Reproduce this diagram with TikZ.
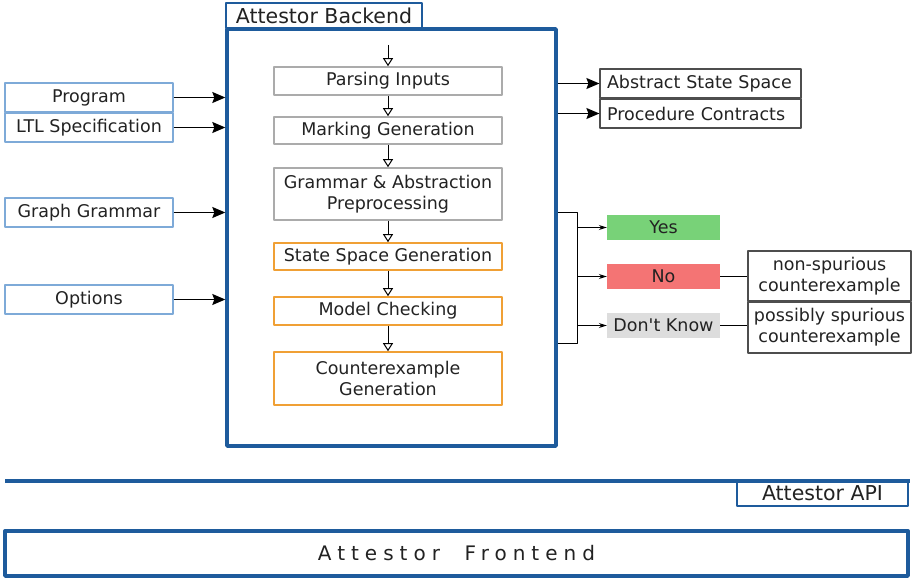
\documentclass[tikz,border=0pt]{standalone}
\usepackage{fontspec}
\setmainfont{DejaVu Sans}[Ligatures=TeXOff]
\usetikzlibrary{arrows.meta,positioning}
\definecolor{apiblue}{HTML}{1E5B9C}
\definecolor{inblue}{HTML}{7EAAD8}
\definecolor{stgray}{HTML}{ABABAB}
\definecolor{storange}{HTML}{F0A035}
\definecolor{yesgreen}{HTML}{78D278}
\definecolor{nored}{HTML}{F47474}
\definecolor{dkgray}{HTML}{DDDDDD}
\definecolor{txt}{HTML}{222222}
\tikzset{
  stage/.style={draw=stgray, line width=1.6pt, minimum width=228pt, align=center, inner sep=0pt},
  late/.style={stage, draw=storange},
  input/.style={draw=inblue, line width=1.4pt, minimum width=168pt, minimum height=29pt, inner sep=0pt},
  output/.style={draw=txt!80, line width=1.2pt, minimum width=201pt, minimum height=29pt, text width=187pt, align=left, inner sep=0pt},
  answer/.style={minimum width=113pt, minimum height=25pt, inner sep=0pt},
  cexbox/.style={draw=txt!80, line width=1.2pt, minimum width=163pt, align=center, inner sep=0pt},
  flow/.style={-{Triangle[open,length=8pt,width=10pt]}, line width=1pt},
  feed/.style={-{Stealth[length=13pt,width=11pt,inset=2pt]}, line width=1.2pt},
}
\begin{document}
\begin{tikzpicture}[x=1pt,y=-1pt, font=\fontsize{17.5}{21}\selectfont, text=txt, line join=round]
\useasboundingbox (0,0) rectangle (917,578);
% backend
\node[draw=apiblue, line width=3.4pt, minimum width=329pt, minimum height=417pt] (back) at (391.5,237.5) {};
\node[draw=apiblue, line width=2.4pt, minimum width=196pt, minimum height=25pt, inner sep=0pt, font=\fontsize{20.5}{22}\selectfont] (backt) at (324,15.5) {Attestor Backend};
% stages
\node[stage, minimum height=28pt] (parse) at (388,81) {Parsing Inputs};
\node[stage, minimum height=27pt] (mark) at (388,130.5) {Marking Generation};
\node[stage, minimum height=52pt] (gram) at (388,194) {Grammar \& Abstraction\\Preprocessing};
\node[late, minimum height=27pt] (sgen) at (388,256.5) {State Space Generation};
\node[late, minimum height=28pt] (mc) at (388,311) {Model Checking};
\node[late, minimum height=53pt] (cex) at (388,378.5) {Counterexample\\Generation};
\coordinate (start) at (388,45);
\draw[flow] (start) -- (parse);
\draw[flow] (parse) -- (mark);
\draw[flow] (mark) -- (gram);
\draw[flow] (gram) -- (sgen);
\draw[flow] (sgen) -- (mc);
\draw[flow] (mc) -- (cex);
% inputs
\node[input] (prog) at (89,97.5) {Program};
\node[input] (ltl) at (89,127.5) {LTL Specification};
\node[input] (gg) at (89,212.5) {Graph Grammar};
\node[input] (opt) at (89,299.5) {Options};
\foreach \n in {prog,ltl,gg,opt}
  \draw[feed] (\n.east) -- (\n.east -| back.west);
% outputs
\node[output] (ass) at (700.5,83.5) {Abstract State Space};
\node[output] (pc) at (700.5,113.5) {Procedure Contracts};
\draw[feed] (ass.west -| back.east) -- (ass.west);
\draw[feed] (pc.west -| back.east) -- (pc.west);
% verdicts
\node[answer, fill=yesgreen] (yes) at (663.5,227.5) {Yes};
\node[answer, fill=nored] (no) at (663.5,276.5) {No};
\node[answer, fill=dkgray] (dk) at (663.5,325.5) {Don't Know};
\coordinate (bt) at (577,212);
\coordinate (bb) at (577,343);
\draw[line width=1pt] (back.east |- bt) -- (bt) -- (bb) -- (back.east |- bb);
\foreach \n in {yes,no,dk}
  \draw[-{Stealth[length=8pt,width=5pt]}, line width=1pt] (\n.west -| bt) -- (\n.west);
\node[cexbox, minimum height=50pt] (ns) at (829.5,276) {non-spurious\\counterexample};
\node[cexbox, minimum height=51pt] (ps) at (829.5,327.5) {possibly spurious\\counterexample};
\draw[line width=1pt] (no.east) -- (no.east -| ns.west);
\draw[line width=1pt] (dk.east) -- (dk.east -| ps.west);
% api and frontend
\coordinate (apil) at (5,481);
\coordinate (apir) at (910,481);
\draw[apiblue, line width=3.4pt] (apil) -- (apir);
\node[draw=apiblue, line width=2pt, minimum width=171pt, minimum height=25pt, inner sep=0pt, font=\fontsize{20.5}{22}\selectfont] (api) at (822.5,493.5) {Attestor API};
\node[draw=apiblue, line width=3.4pt, minimum width=903pt, minimum height=45pt, inner sep=0pt, font=\fontsize{20}{22}\selectfont\addfontfeature{LetterSpace=30}] (front) at (456.5,553.5) {Attestor\ \ Frontend};
\end{tikzpicture}
\end{document}
